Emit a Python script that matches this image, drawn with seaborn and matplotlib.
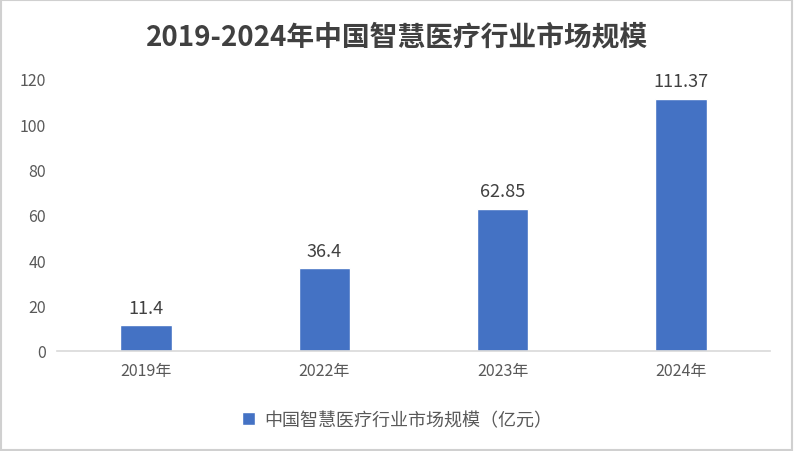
import matplotlib
matplotlib.use("Agg")
import matplotlib.pyplot as plt
import seaborn as sns
import pandas as pd
from matplotlib.patches import Rectangle

years = ["2019年", "2022年", "2023年", "2024年"]
values = [11.4, 36.4, 62.85, 111.37]
value_labels = ["11.4", "36.4", "62.85", "111.37"]
series_name = "中国智慧医疗行业市场规模（亿元）"
title = "2019-2024年中国智慧医疗行业市场规模"
yticks = [0, 20, 40, 60, 80, 100, 120]

sns.set_theme(style="white")
plt.rcParams['font.family'] = ['Noto Sans CJK SC', 'DejaVu Sans']

df = pd.DataFrame({"year": years, "value": values})

fig = plt.figure(figsize=(7.94, 4.52), dpi=100)
ax = fig.add_axes([57/794, 1-352/452, (770-57)/794, (352-80)/452])
sns.barplot(data=df, x="year", y="value", color="#4472C4", width=0.29,
            saturation=1, ax=ax, label=series_name)

ax.set_ylim(0, 120)
ax.set_xlim(-0.5, 3.5)
ax.set_yticks(yticks)
ax.set_yticklabels([str(t) for t in yticks])
ax.set_xlabel("")
ax.set_ylabel("")
for s in ["top", "right", "left"]:
    ax.spines[s].set_visible(False)
ax.spines["bottom"].set_color("#D9D9D9")
ax.spines["bottom"].set_linewidth(1.2)
ax.tick_params(axis="both", length=0, labelsize=11.5, colors="#595959", pad=8)

ax.bar_label(ax.containers[0], labels=value_labels, padding=6, fontsize=13, color="#404040")

fig.text(0.5, 1-37/452, title, ha="center", va="center", fontsize=20,
         fontweight="bold", color="#404040")

ax.legend(handles=[ax.containers[0]], labels=[series_name], loc="center",
          bbox_to_anchor=(0.5, 1-421/452), bbox_transform=fig.transFigure,
          frameon=False, fontsize=13, handlelength=0.7, handleheight=0.7,
          handletextpad=0.5, labelcolor="#595959")

fig.patches.append(Rectangle((0.001, 0.002), 0.997, 0.996, transform=fig.transFigure,
                             fill=False, edgecolor="#D0D0D0", linewidth=1.5))

fig.savefig("out.png", dpi=100, facecolor="white")
